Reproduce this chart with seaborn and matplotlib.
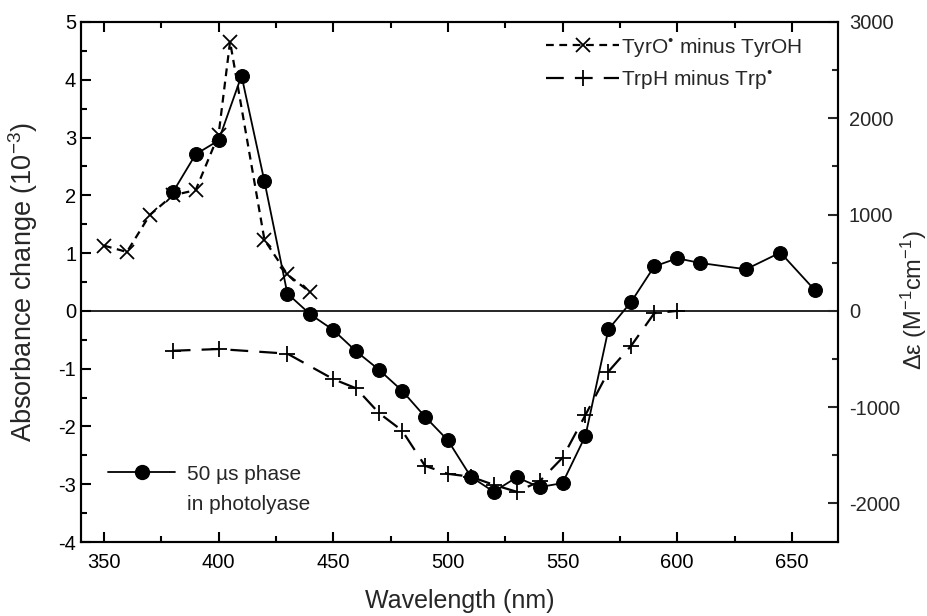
import matplotlib
matplotlib.use("Agg")
import matplotlib.pyplot as plt
import matplotlib.ticker as mticker
from matplotlib.lines import Line2D
import pandas as pd
import seaborn as sns

# 50 us phase in photolyase (absorbance change, 10^-3)
wl_phase = [380, 390, 400, 410, 420, 430, 440, 450, 460, 470, 480, 490, 500, 510,
            520, 530, 540, 550, 560, 570, 580, 590, 600, 610, 630, 645, 660]
abs_phase = [2.05, 2.71, 2.95, 4.07, 2.24, 0.30, -0.06, -0.33, -0.70, -1.02, -1.38, -1.83, -2.24, -2.87,
             -3.13, -2.88, -3.05, -2.98, -2.16, -0.32, 0.16, 0.77, 0.91, 0.83, 0.72, 1.01, 0.36]

# TyrO* minus TyrOH
wl_tyr = [350, 360, 370, 380, 390, 400, 405, 420, 430, 440]
abs_tyr = [1.13, 1.02, 1.66, 2.00, 2.09, 3.05, 4.66, 1.23, 0.63, 0.32]

# TrpH minus Trp*
wl_trp = [380, 400, 430, 450, 460, 470, 480, 490, 500, 510, 520, 530, 540, 550, 560, 570, 580, 590, 600]
abs_trp = [-0.69, -0.66, -0.74, -1.18, -1.34, -1.77, -2.07, -2.68, -2.82, -2.87, -3.01, -3.13, -2.95,
           -2.54, -1.80, -1.05, -0.60, -0.04, 0.0]

label_phase = "50 µs phase"
label_phase2 = "in photolyase"
label_tyr = "TyrO$^{\u2022}$ minus TyrOH"
label_trp = "TrpH minus Trp$^{\u2022}$"

sns.set_style("ticks")
plt.rcParams["font.family"] = ["Liberation Sans", "DejaVu Sans"]
plt.rcParams["mathtext.fontset"] = "custom"
plt.rcParams["mathtext.rm"] = "Liberation Sans"
plt.rcParams["mathtext.it"] = "Liberation Sans:italic"
plt.rcParams["mathtext.bf"] = "Liberation Sans:bold"
plt.rcParams["axes.unicode_minus"] = False

df_phase = pd.DataFrame({"wl": wl_phase, "val": abs_phase})
df_tyr = pd.DataFrame({"wl": wl_tyr, "val": abs_tyr})
df_trp = pd.DataFrame({"wl": wl_trp, "val": abs_trp})

fig = plt.figure(figsize=(9.28, 6.16), dpi=100)
ax = fig.add_axes([0.0873, 0.1201, 0.8154, 0.8442])

ax.axhline(0, color="black", lw=1.2, zorder=1)

tyr_ls = (0, (3.5, 2.5))
trp_ls = (0, (8, 5))
sns.lineplot(data=df_tyr, x="wl", y="val", ax=ax, color="black", lw=1.6,
             linestyle=tyr_ls, marker="x", markersize=10, markeredgewidth=1.3,
             markeredgecolor="black")
sns.lineplot(data=df_trp, x="wl", y="val", ax=ax, color="black", lw=1.6,
             linestyle=trp_ls, marker="+", markersize=12, markeredgewidth=1.3,
             markeredgecolor="black")
sns.lineplot(data=df_phase, x="wl", y="val", ax=ax, color="black", lw=1.3,
             marker="o", markersize=10, markeredgecolor="black", markerfacecolor="black")

ax.set_xlim(340, 670)
ax.set_ylim(-4, 5)
ax.xaxis.set_major_locator(mticker.MultipleLocator(50))
ax.xaxis.set_minor_locator(mticker.MultipleLocator(25))
ax.yaxis.set_major_locator(mticker.MultipleLocator(1))
ax.yaxis.set_minor_locator(mticker.MultipleLocator(0.5))
ax.tick_params(axis="both", which="both", direction="in", top=True, labelsize=14.5,
               width=1.5, color="black", labelcolor="black")
ax.tick_params(which="major", length=7)
ax.tick_params(which="minor", length=4)
ax.tick_params(axis="x", pad=8)
ax.set_xlabel("Wavelength (nm)", fontsize=18, labelpad=12)
ax.set_ylabel("Absorbance change (10$^{-3}$)", fontsize=19.5)
ax.yaxis.set_label_coords(-0.054, 0.5)
for s in ax.spines.values():
    s.set_linewidth(1.5)
    s.set_color("black")

ax2 = ax.twinx()
ax2.set_ylim(-2400, 3000)
ax2.yaxis.set_major_locator(mticker.MultipleLocator(1000))
ax2.yaxis.set_minor_locator(mticker.MultipleLocator(500))
ax2.tick_params(axis="y", which="both", direction="in", labelsize=14.5, width=1.5, pad=8)
ax2.tick_params(which="major", length=7)
ax2.tick_params(which="minor", length=4)
ax2.set_ylabel("Δε (M$^{-1}$cm$^{-1}$)", fontsize=17)
ax2.yaxis.set_label_coords(1.081, 0.465)
for s in ax2.spines.values():
    s.set_linewidth(1.5)
    s.set_color("black")

h_tyr = Line2D([], [], color="black", lw=1.6, linestyle=tyr_ls, marker="x", markersize=10,
               markeredgewidth=1.3)
h_trp = Line2D([], [], color="black", lw=1.6, linestyle=trp_ls, marker="+", markersize=12,
               markeredgewidth=1.3)
h_phase = Line2D([], [], color="black", lw=1.3, marker="o", markersize=10)

leg1 = ax2.legend([h_tyr, h_trp], [label_tyr, label_trp], loc="upper left",
                  bbox_to_anchor=(0.604, 0.99), frameon=False, fontsize=15,
                  handlelength=3.5, handletextpad=0.1, labelspacing=0.45, borderaxespad=0)
ax2.add_artist(leg1)
ax2.legend([h_phase], [label_phase], loc="upper left", bbox_to_anchor=(0.025, 0.165),
           frameon=False, fontsize=15, handlelength=3.2, handletextpad=0.6, borderaxespad=0)
fig.text(187 / 928, 1 - 504 / 616, label_phase2, fontsize=15, va="center", ha="left")

fig.savefig("out.png", dpi=100)
